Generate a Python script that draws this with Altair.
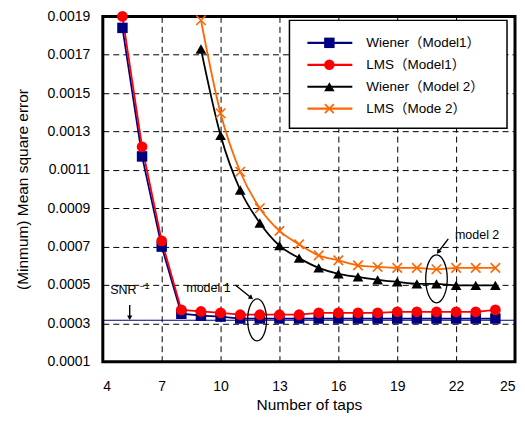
import altair as alt
import pandas as pd

names = ["Wiener（Model1）", "LMS（Model1）", "Wiener（Model 2）", " LMS（Mode 2）"]
colors = ["#000080", "#FF0000", "#000000", "#FF6600"]

taps1 = list(range(5, 25))
wiener1 = [0.00184, 0.00117, 0.00070, 0.000350, 0.000340, 0.000335, 0.000325, 0.000325,
           0.000325, 0.000325, 0.000325, 0.000325, 0.000325, 0.000325, 0.000325, 0.000325,
           0.000325, 0.000325, 0.000325, 0.000325]
lms1 = [0.00190, 0.00122, 0.00073, 0.000370, 0.000362, 0.000355, 0.000345, 0.000345,
        0.000345, 0.000345, 0.000355, 0.000355, 0.000355, 0.000355, 0.000360, 0.000360,
        0.000360, 0.000360, 0.000360, 0.000370]
taps2 = list(range(9, 25))
wiener2 = [0.00173, 0.00128, 0.000995, 0.000823, 0.000705, 0.000640, 0.000589, 0.000558,
           0.000542, 0.000527, 0.000516, 0.000506, 0.000506, 0.000498, 0.000498, 0.000498]
lms2 = [0.00188, 0.001395, 0.00109, 0.00090, 0.000782, 0.000712, 0.000654, 0.000628,
        0.000602, 0.000594, 0.000589, 0.000589, 0.000582, 0.000589, 0.000589, 0.000589]
snr_inv = 0.000316

x_ticks = [4, 7, 10, 13, 16, 19, 22, 25]
y_ticks = [0.0001, 0.0003, 0.0005, 0.0007, 0.0009, 0.0011, 0.0013, 0.0015, 0.0017, 0.0019]

# annotations
label_text = ["SNR", "model 1", "model 2"]
label_x = [5.05, 9.38, 23.07]
label_y = [0.000474, 0.000485, 0.000760]
sup_text = ["−1"]
sup_x = [6.12]
sup_y = [0.000496]
arrow_x = [5.37, 10.75, 21.6]
arrow_y = [0.000396, 0.000500, 0.000740]
arrow_x2 = [5.37, 11.56, 21.09]
arrow_y2 = [0.000329, 0.000433, 0.000672]
arrow_angle = [180, 129, 218]
ellipse_x = [11.86, 21.0]
ellipse_y = [0.000318, 0.000532]
ellipse_size = [1764, 2304]

FONT = "Liberation Sans, Noto Sans CJK JP"

rows = []
for t, v in zip(taps1, wiener1):
    rows.append({"taps": t, "mse": v, "series": names[0]})
for t, v in zip(taps1, lms1):
    rows.append({"taps": t, "mse": v, "series": names[1]})
for t, v in zip(taps2, wiener2):
    rows.append({"taps": t, "mse": v, "series": names[2]})
for t, v in zip(taps2, lms2):
    rows.append({"taps": t, "mse": v, "series": names[3]})
df = pd.DataFrame(rows)

xs = alt.Scale(domain=[4, 25], nice=False, zero=False)
ys = alt.Scale(domain=[0.0001, 0.0019], nice=False, zero=False)
cs = alt.Scale(domain=names, range=colors)

X = alt.X("taps:Q", scale=xs,
          axis=alt.Axis(values=x_ticks, tickCount=20, title="Number of taps", format="d"))
Y = alt.Y("mse:Q", scale=ys,
          axis=alt.Axis(values=y_ticks, tickCount=20, title="(Minmum) Mean square error",
                        format=".4f"))
C = alt.Color("series:N", scale=cs, legend=None)

base = alt.Chart(df)

snr_df = pd.DataFrame({"taps": [4], "taps2": [25], "mse": [snr_inv]})
snr_line = alt.Chart(snr_df).mark_rule(color="#000080", strokeWidth=1.2).encode(
    x=X, x2="taps2:Q", y=Y)

line1 = base.transform_filter(
    alt.FieldOneOfPredicate(field="series", oneOf=names[:2])
).mark_line(strokeWidth=1.8).encode(x=X, y=Y, color=C, order="taps:Q")
line2 = base.transform_filter(
    alt.FieldOneOfPredicate(field="series", oneOf=names[2:])
).mark_line(strokeWidth=1.8, interpolate="monotone").encode(x=X, y=Y, color=C, order="taps:Q")

def pts(name, shape, size):
    return base.transform_filter(alt.datum.series == name).mark_point(
        filled=True, shape=shape, size=size, opacity=1).encode(x=X, y=Y, color=C)

p_w1 = pts(names[0], "square", 110)
p_l1 = pts(names[1], "circle", 115)
p_w2 = pts(names[2], "triangle-up", 115)
XPATH = "M-1,-1L1,1M-1,1L1,-1"
p_l2 = base.transform_filter(alt.datum.series == names[3]).mark_point(
    filled=False, shape=XPATH, size=90, strokeWidth=1.6, opacity=1).encode(x=X, y=Y, color=C)

lab_df = pd.DataFrame({"taps": label_x, "mse": label_y, "text": label_text})
labels = alt.Chart(lab_df).mark_text(font=FONT, fontSize=12.5, color="black").encode(
    x=X, y=Y, text="text:N")
sup_df = pd.DataFrame({"taps": sup_x, "mse": sup_y, "text": sup_text})
sup = alt.Chart(sup_df).mark_text(font=FONT, fontSize=9, color="black").encode(
    x=X, y=Y, text="text:N")

arr_df = pd.DataFrame({"taps": arrow_x, "mse": arrow_y, "taps2": arrow_x2,
                       "mse2": arrow_y2, "angle": arrow_angle})
arr_lines = alt.Chart(arr_df).mark_rule(color="black", strokeWidth=1.4).encode(
    x=X, y=Y, x2="taps2:Q", y2="mse2:Q")
arr_heads = alt.Chart(arr_df).mark_point(
    shape="triangle-up", filled=True, color="black", size=28, opacity=1).encode(
    x=alt.X("taps2:Q", scale=xs), y=alt.Y("mse2:Q", scale=ys),
    angle=alt.Angle("angle:Q", scale=None))

ell_df = pd.DataFrame({"taps": ellipse_x, "mse": ellipse_y, "size": ellipse_size})
EPATH = "M-0.45,0A0.45,1 0 1,0 0.45,0A0.45,1 0 1,0 -0.45,0Z"
ellipses = alt.Chart(ell_df).mark_point(
    shape=EPATH, filled=False, color="black", strokeWidth=1.3, opacity=1).encode(
    x=X, y=Y, size=alt.Size("size:Q", scale=None))

main = alt.layer(snr_line, line1, line2, p_w1, p_l1, p_w2, p_l2,
                 arr_lines, arr_heads, ellipses, labels, sup)

# legend box
leg_df = pd.DataFrame({"series": names, "row": [0, 1, 2, 3]})
LY = alt.Y("row:Q", scale=alt.Scale(domain=[0, 3], range=[26.5, 92.5]), axis=None)
frame = alt.Chart(pd.DataFrame({"a": [0]})).mark_rect(
    fill="white", stroke="black", strokeWidth=1.5).encode(
    x=alt.value(187), x2=alt.value(405), y=alt.value(4), y2=alt.value(112))
leg_rules = alt.Chart(leg_df).mark_rule(strokeWidth=2.2).encode(
    x=alt.value(205), x2=alt.value(250), y=LY, color=C)
leg_pts = alt.Chart(leg_df).transform_filter(
    alt.FieldOneOfPredicate(field="series", oneOf=names[:3])
).mark_point(filled=True, size=110, opacity=1).encode(
    x=alt.value(227), y=LY, color=C,
    shape=alt.Shape("series:N", scale=alt.Scale(domain=names[:3],
                    range=["square", "circle", "triangle-up"]), legend=None))
leg_x = alt.Chart(leg_df).transform_filter(alt.datum.series == names[3]).mark_point(
    filled=False, shape=XPATH, size=80, strokeWidth=1.8, opacity=1).encode(
    x=alt.value(227), y=LY, color=C)
leg_text = alt.Chart(leg_df).mark_text(
    font=FONT, fontSize=13.5, align="left", baseline="middle", color="black").encode(
    x=alt.value(264), y=LY, text="series:N")
legend = alt.layer(frame, leg_rules, leg_pts, leg_x, leg_text)

chart = alt.layer(main, legend).resolve_scale(
    y="independent", x="independent", shape="independent"
).properties(
    width=413, height=346,
    autosize=alt.AutoSizeParams(type="none"),
    padding={"left": 95, "top": 8, "right": 2, "bottom": 53},
    background="white",
).configure_view(
    stroke="black", strokeWidth=3
).configure_axis(
    grid=True, gridColor="black", gridDash=[6, 4], gridWidth=1, gridOpacity=1,
    domain=False, ticks=False, tickSize=0, labelOverlap=False,
    labelFont=FONT, labelFontSize=14, labelColor="black",
    titleFont=FONT, titleFontSize=15.5, titleFontWeight="normal", titleColor="black",
).configure_axisY(
    labelPadding=13, titlePadding=17
).configure_axisX(
    labelPadding=18, titlePadding=4
)

chart.save("out.html", embed_options={"renderer": "svg", "actions": False})
